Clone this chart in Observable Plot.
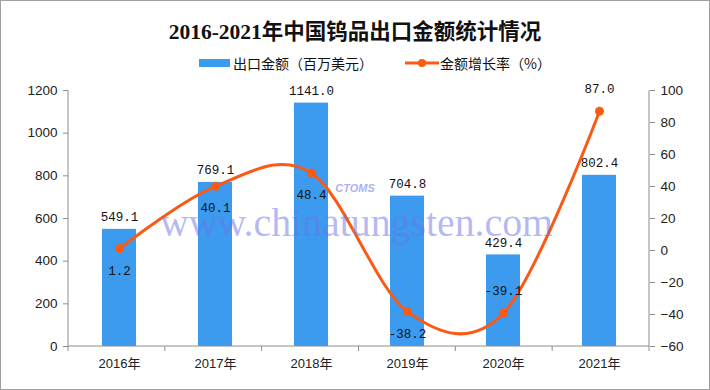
<!DOCTYPE html>
<html><head><meta charset="utf-8">
<script src="https://cdn.jsdelivr.net/npm/d3@7"></script>
<script src="https://cdn.jsdelivr.net/npm/@observablehq/plot@0.6"></script>
<style>
body{margin:0;background:#fff;}
#wrap{position:relative;width:710px;height:390px;background:#fff;overflow:hidden;font-family:"Liberation Sans","Noto Sans CJK SC",sans-serif;}
#border{position:absolute;left:0;top:0;width:710px;height:390px;box-sizing:border-box;border:1px solid #a0a0a0;pointer-events:none;z-index:5;}
#title{position:absolute;top:17px;left:0;width:710px;text-align:center;font-family:"Liberation Serif","Noto Sans CJK SC",serif;font-weight:bold;font-size:21.5px;line-height:30px;color:#111;}
#legend{position:absolute;top:53px;left:0;width:710px;height:20px;font-family:"Noto Sans CJK SC",sans-serif;font-size:14px;line-height:20px;color:#111;}
.lg{position:absolute;top:0;white-space:nowrap;}
#chart{position:absolute;left:0;top:78px;}
#wm{position:absolute;left:0;top:0;pointer-events:none;}
</style></head>
<body>
<div id="wrap">
  <div id="title">2016-2021年中国钨品出口金额统计情况</div>
  <div id="legend">
    <span class="lg" style="left:199px;top:6px;width:31px;height:8px;background:#3d9bef;"></span>
    <span class="lg" style="left:233px;">出口金额（百万美元）</span>
    <svg class="lg" style="left:405px;top:0" width="34" height="20"><line x1="0" y1="10" x2="34" y2="10" stroke="#fa5a14" stroke-width="3"/><circle cx="17" cy="10" r="4" fill="#fa5a14"/></svg>
    <span class="lg" style="left:440px;">金额增长率（%）</span>
  </div>
  <div id="chart"></div>
  <svg id="wm" width="710" height="390">
    <text x="355" y="192" text-anchor="middle" font-family="Liberation Sans" font-style="italic" font-weight="bold" font-size="11" fill="#8f96ee" fill-opacity="0.75">CTOMS</text>
    <text x="160" y="236" textLength="393" lengthAdjust="spacingAndGlyphs" font-family="Liberation Serif" font-size="40" fill="#6a74e8" fill-opacity="0.5">www.chinatungsten.com</text>
  </svg>
  <div id="border"></div>
</div>
<script>
const years = ["2016年","2017年","2018年","2019年","2020年","2021年"];
const exportValue = [549.1, 769.1, 1141.0, 704.8, 429.4, 802.4];
const growthRate = [1.2, 40.1, 48.4, -38.2, -39.1, 87.0];
const leftTicks = [0, 200, 400, 600, 800, 1000, 1200];
const rightTicks = [-60, -40, -20, 0, 20, 40, 60, 80, 100];

const leftMax = 1200, rMin = -60, rMax = 100;
const toLeft = g => (g - rMin) / (rMax - rMin) * leftMax;
const fromLeft = v => v / leftMax * (rMax - rMin) + rMin;

const data = years.map((y, i) => ({year: y, exp: exportValue[i], g: growthRate[i], i}));

const BLUE = "#3d9bef", ORANGE = "#fa5a14", AXIS = "#8c8c8c";

// axis lines and category boundary ticks
function axisLines(index, scales, values, dims) {
  const svg = d3.create("svg:g");
  const x0 = dims.marginLeft, x1 = dims.width - dims.marginRight;
  const yb = dims.height - dims.marginBottom, yt = dims.marginTop;
  const n = years.length, step = (x1 - x0) / n;
  svg.append("line").attr("x1", x0).attr("x2", x1).attr("y1", yb).attr("y2", yb).attr("stroke", AXIS);
  svg.append("line").attr("x1", x0).attr("x2", x0).attr("y1", yt).attr("y2", yb).attr("stroke", AXIS);
  svg.append("line").attr("x1", x1).attr("x2", x1).attr("y1", yt).attr("y2", yb).attr("stroke", AXIS);
  for (let k = 0; k <= n; k++) {
    const xx = x0 + k * step;
    svg.append("line").attr("x1", xx).attr("x2", xx).attr("y1", yb).attr("y2", yb + 5).attr("stroke", AXIS);
  }
  return svg.node();
}

const chart = Plot.plot({
  width: 710, height: 312,
  marginTop: 12, marginRight: 61, marginBottom: 44, marginLeft: 68,
  style: {fontFamily: "Liberation Sans", fontSize: "13.5px", color: "#222", background: "transparent"},
  x: {domain: years, paddingInner: 0.65, paddingOuter: 0.325},
  y: {domain: [0, leftMax]},
  marks: [
    Plot.barY(data, {x: "year", y: "exp", fill: BLUE}),
    axisLines,
    Plot.axisY({anchor: "left", ticks: leftTicks, tickSize: 5, tickPadding: 6, stroke: AXIS, label: null, fontSize: 13.5, tickFormat: d => String(d)}),
    Plot.axisY({anchor: "right", ticks: rightTicks.map(toLeft), tickSize: 5, tickPadding: 6, stroke: AXIS, label: null, fontSize: 13.5,
      tickFormat: v => { const g = Math.round(fromLeft(v)); return g < 0 ? "\u2212" + Math.abs(g) : String(g); }}),
    Plot.axisX({tickSize: 0, tickPadding: 12, label: null, fontSize: 13, fontFamily: "Liberation Sans, Noto Sans CJK SC"}),
    Plot.line(data, {x: "year", y: d => toLeft(d.g), curve: "cardinal", tension: 0, stroke: ORANGE, strokeWidth: 3}),
    Plot.dot(data, {x: "year", y: d => toLeft(d.g), r: 4.5, fill: ORANGE, stroke: "none"}),
    Plot.text(data, {x: "year", y: "exp", text: d => d.exp.toFixed(1), dy: -12, fontFamily: "Liberation Mono", fontSize: 12.5, fill: "#111"}),
    Plot.text(data, {filter: d => d.i < 4, x: "year", y: d => toLeft(d.g), text: d => d.g.toFixed(1), dy: 22, fontFamily: "Liberation Mono", fontSize: 12.5, fill: "#111"}),
    Plot.text(data, {filter: d => d.i >= 4, x: "year", y: d => toLeft(d.g), text: d => d.g.toFixed(1), dy: -22, fontFamily: "Liberation Mono", fontSize: 12.5, fill: "#111"})
  ]
});
document.getElementById("chart").appendChild(chart);
</script>
</body></html>
